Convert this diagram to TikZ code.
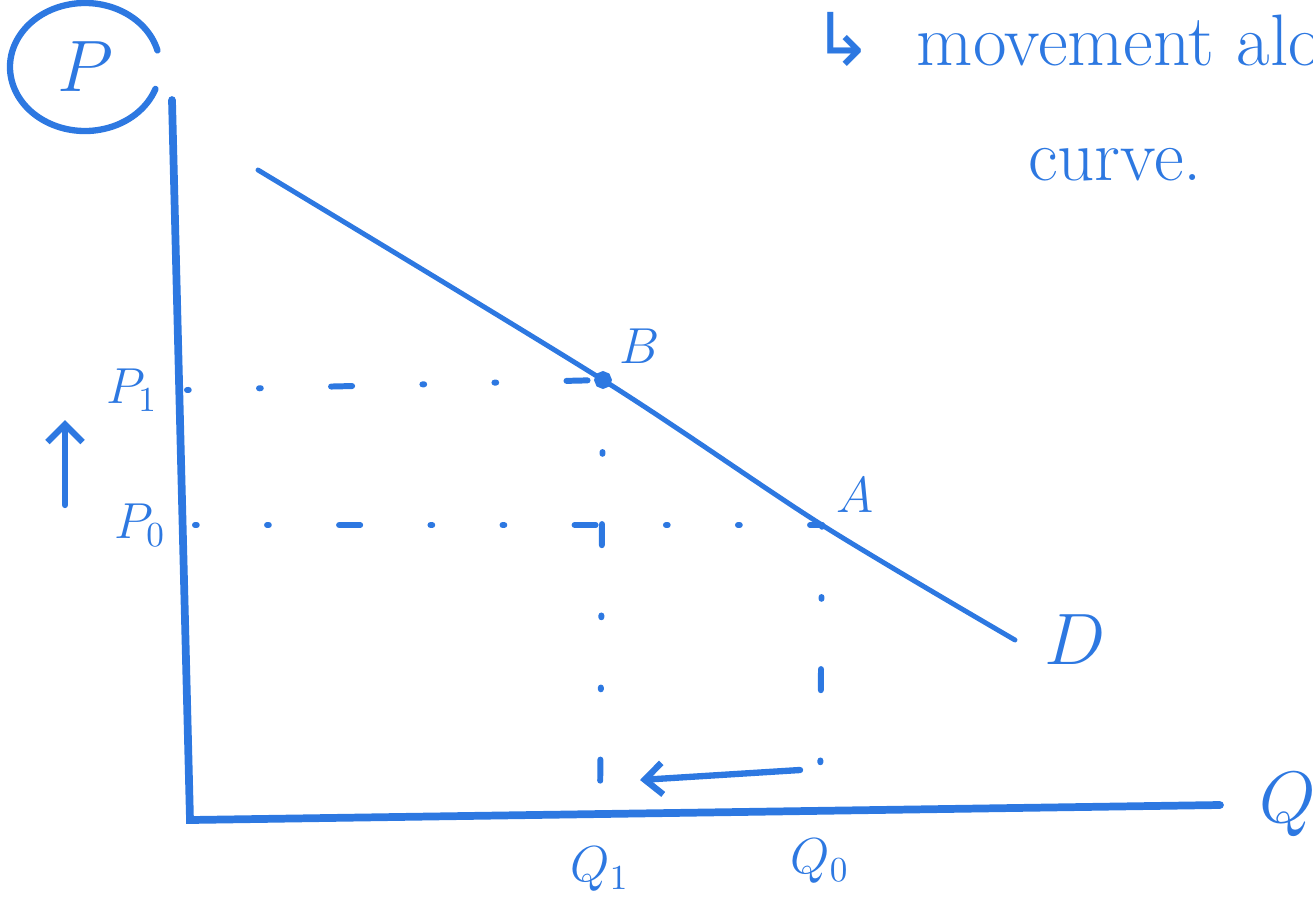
\documentclass[tikz,border=0pt]{standalone}
\usepackage{amsmath,amssymb}
\usepackage{fontspec}
\newfontfamily\arrowfont{DejaVu Sans}
\usetikzlibrary{positioning,arrows.meta,calc}
\definecolor{pen}{RGB}{45,120,225}

\begin{document}
\begin{tikzpicture}[
  pen/.style={draw=pen, line width=1.8pt, line cap=round},
  guide/.style={draw=pen, line width=1.7pt, line cap=round,
                dash pattern=on 0.5pt off 20pt on 0.5pt off 20pt on 6pt off 20pt},
  lbl/.style={text=pen, font=\Large, inner sep=1pt},
  big/.style={text=pen, font=\huge, inner sep=1pt},
  note/.style={text=pen, font=\huge, inner sep=1pt, anchor=base west},
]
  \clip (0,0) rectangle (13.13,9.05);

  % Points
  \coordinate (O) at (1.90,0.85);
  \coordinate (ytop) at (1.72,8.05);
  \coordinate (xend) at (12.20,1.00);
  \coordinate (dstart) at (2.58,7.35);
  \coordinate (B) at (6.03,5.25);
  \coordinate (A) at (8.22,3.80);
  \coordinate (dend) at (10.15,2.65);
  \coordinate (p1) at (1.87,5.15);
  \coordinate (p0) at (1.95,3.80);
  \coordinate (q1) at (6.00,0.92);
  \coordinate (q0) at (8.20,0.90);
  \coordinate (mvfrom) at (8.00,1.35);
  \coordinate (mvto) at (6.40,1.25);
  \coordinate (upfrom) at (0.65,4.00);
  \coordinate (upto) at (0.65,4.85);

  % Axes
  \draw[pen, line width=2.2pt] (ytop) -- (O) -- (xend);
  \node[big, right=0.35cm of xend] (Qlab) {$Q$};
  \node[big] (Plab) at (0.85,8.38) {$P$};
  \draw[pen] (Plab) ++(15:0.75cm and 0.64cm)
    arc[start angle=15, end angle=340, x radius=0.75cm, y radius=0.64cm];

  % Demand curve
  \draw[pen, line width=1.4pt] plot[smooth, tension=0.5]
    coordinates {(dstart) (B) (A) (dend)};
  \node[big, right=0.25cm of dend] (Dlab) {$D$};
  \node[lbl, above right=0.12cm and 0.12cm of B] (Blab) {$B$};
  \node[lbl, above right=0.08cm and 0.1cm of A] (Alab) {$A$};
  \fill[pen] (B) circle (1.6pt);

  % Guides to the axes
  \path[guide] (p1) -- (B);
  \path[guide] (p0) -- (A);
  \path[guide] (B) -- (q1);
  \path[guide] (A) -- (q0);

  % Axis labels
  \node[lbl, left=0.25cm of p1] (P1lab) {$P_1$};
  \node[lbl, left=0.25cm of p0] (P0lab) {$P_0$};
  \node[lbl, below=0.3cm of q1] (Q1lab) {$Q_1$};
  \node[lbl, below=0.2cm of q0] (Q0lab) {$Q_0$};

  % Movement
  \draw[pen, -{Straight Barb[length=5pt,width=9pt]}] (mvfrom) -- (mvto);
  \draw[pen, -{Straight Barb[length=5pt,width=10pt]}] (upfrom) -- (upto);

  % Note
  \node[note] (hook) at (8.08,8.40) {\arrowfont ↳};
  \node[note, right=0.35cm of hook.base east, anchor=base west] (mv) {movement along};
  \node[text=pen, font=\huge] (crv) at (11.15,7.40) {curve.};
\end{tikzpicture}
\end{document}
